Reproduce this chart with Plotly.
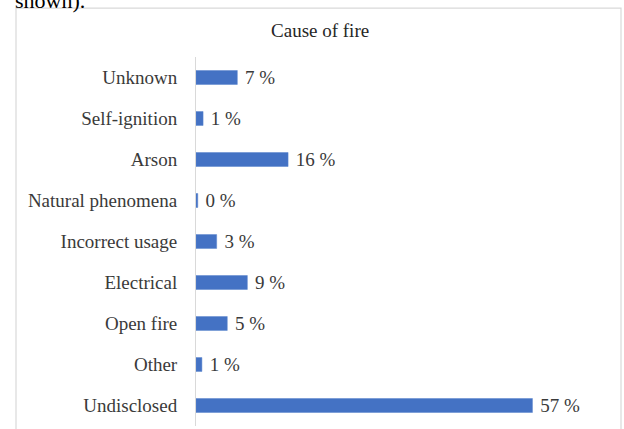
import plotly.graph_objects as go

categories = ["Unknown", "Self-ignition", "Arson", "Natural phenomena", "Incorrect usage",
              "Electrical", "Open fire", "Other", "Undisclosed"]
values = [7.0, 1.2, 15.6, 0.3, 3.5, 8.7, 5.3, 1.0, 57.0]
value_labels = ["7 %", "1 %", "16 %", "0 %", "3 %", "9 %", "5 %", "1 %", "57 %"]

FONT = "Liberation Serif"
TXT = "#3a3a3a"

fig = go.Figure(go.Bar(
    x=values, y=categories, orientation="h",
    marker=dict(color="#4472C4", line=dict(color="#5b84cc", width=0.5)),
    text=[" " + t for t in value_labels], textposition="outside",
    textfont=dict(family=FONT, size=19, color=TXT),
    constraintext="none",
    cliponaxis=False,
))

fig.update_layout(
    width=624, height=429,
    margin=dict(l=196, r=3, t=57, b=2.5),
    paper_bgcolor="white", plot_bgcolor="white",
    bargap=0.66,
    showlegend=False,
    title=dict(text="Cause of fire", x=0.513, xanchor="center", y=0.93, yanchor="middle",
               font=dict(family=FONT, size=19, color="#262626")),
    xaxis=dict(range=[0, 72], visible=False, showgrid=False, zeroline=False),
    yaxis=dict(autorange="reversed", showline=True, linecolor="#d9d9d9", linewidth=1,
               ticks="", ticklabelstandoff=14, showgrid=False, automargin=False,
               tickfont=dict(family=FONT, size=19, color=TXT)),
    shapes=[dict(type="rect", xref="paper", yref="paper",
                 x0=-0.4235, x1=1.0, y0=-0.05, y1=1.1326,
                 line=dict(color="#d9d9d9", width=1.2), fillcolor="rgba(0,0,0,0)", layer="below")],
    annotations=[dict(text="shown).", xref="paper", yref="paper", x=-0.431, y=1.114,
                      xanchor="left", yanchor="bottom", showarrow=False,
                      font=dict(family=FONT, size=22, color="black"))],
)

fig.write_html("out.html", config={"displayModeBar": False},
               post_script="document.body.style.margin='0';")
